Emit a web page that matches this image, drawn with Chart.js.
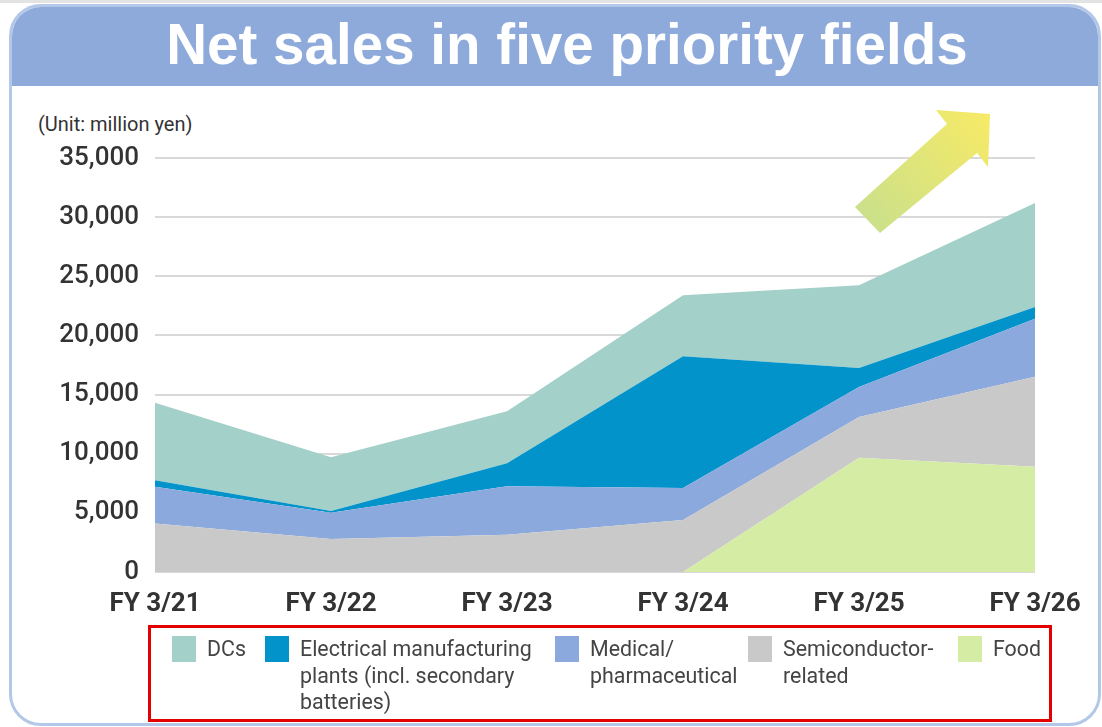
<!DOCTYPE html>
<html>
<head>
<meta charset="utf-8">
<script src="https://cdn.jsdelivr.net/npm/chart.js@4/dist/chart.umd.min.js"></script>
<style>
  html,body{margin:0;padding:0;background:#fff;}
  #wrap{position:relative;width:1102px;height:727px;overflow:hidden;background:#fff;}
  #topline{position:absolute;left:0;top:0;width:1102px;height:3px;background:#e3e3e3;}
  #frame{position:absolute;left:9px;top:4px;width:1092px;height:722px;border:3px solid #b3c8e8;border-radius:32px;box-sizing:border-box;background:#fff;overflow:hidden;}
  #band{position:absolute;left:0;top:0;width:100%;height:79px;background:#8eaadb;}
  #title{position:absolute;left:16px;top:3px;width:1102px;height:82px;text-align:center;color:#fff;font-family:"Liberation Sans",Arial,sans-serif;font-weight:bold;font-size:58px;line-height:82px;}
  #title span{display:inline-block;transform:scaleX(0.975);transform-origin:center;}
  #unit{position:absolute;left:38px;top:112px;font-family:Roboto,sans-serif;font-size:20px;color:#333;}
  canvas{position:absolute;left:0;top:0;}
  #arrow{position:absolute;left:0;top:0;}
  #legend{position:absolute;left:148px;top:625px;width:904px;height:97px;border:3px solid #e30000;box-sizing:border-box;}
  .li{position:absolute;top:7px;font-family:Roboto,sans-serif;font-size:22.5px;line-height:26.5px;color:#444;white-space:pre;transform:scaleX(0.95);transform-origin:left top;}
  .sw{position:absolute;top:8px;width:24px;height:26px;}
</style>
</head>
<body>
<div id="wrap">
  <div id="topline"></div>
  <div id="frame"><div id="band"></div></div>
  <div id="title"><span>Net sales in five priority fields</span></div>
  <div id="unit">(Unit: million yen)</div>
  <canvas id="c" width="1102" height="727"></canvas>
  <svg id="arrow" width="1102" height="727">
    <defs>
      <linearGradient id="ag" x1="860" y1="225" x2="990" y2="112" gradientUnits="userSpaceOnUse">
        <stop offset="0" stop-color="#c9e08c"/>
        <stop offset="1" stop-color="#f7ea66"/>
      </linearGradient>
    </defs>
    <polygon points="855,207 947,124 936,110 990,114 988,167 977,153 880,233" fill="url(#ag)"/>
  </svg>
  <div id="legend"></div>
</div>
<script>
const categories = ['FY 3/21','FY 3/22','FY 3/23','FY 3/24','FY 3/25','FY 3/26'];
const food       = [0, 0, 0, 0, 9650, 8900];
const semi       = [4100, 2800, 3150, 4400, 3450, 7600];
const medical    = [3100, 2200, 4100, 2700, 2550, 4900];
const electrical = [550, 150, 1950, 11150, 1600, 1000];
const dcs        = [6550, 4550, 4400, 5150, 7000, 8800];
const yTicks     = [0, 5000, 10000, 15000, 20000, 25000, 30000, 35000];

const seriesNames = {
  dcs: 'DCs',
  electrical: 'Electrical manufacturing\nplants (incl. secondary\nbatteries)',
  medical: 'Medical/\npharmaceutical',
  semi: 'Semiconductor-\nrelated',
  food: 'Food'
};
const colors = {
  dcs: '#a3d0c8',
  electrical: '#0393cb',
  medical: '#8ba9dc',
  semi: '#c9c9c9',
  food: '#d5eca5'
};

function ds(key, data, fill){
  return {
    label: seriesNames[key], data: data,
    backgroundColor: colors[key], borderColor: colors[key],
    borderWidth: 0, pointRadius: 0, fill: fill, tension: 0
  };
}

new Chart(document.getElementById('c'), {
  type: 'line',
  data: {
    labels: categories,
    datasets: [
      ds('food', food, 'origin'),
      ds('semi', semi, '-1'),
      ds('medical', medical, '-1'),
      ds('electrical', electrical, '-1'),
      ds('dcs', dcs, '-1')
    ]
  },
  options: {
    responsive: false,
    animation: false,
    devicePixelRatio: 1,
    layout: { padding: { left: 0, right: 67, top: 158, bottom: 0 } },
    plugins: { legend: { display: false }, tooltip: { enabled: false } },
    scales: {
      x: {
        offset: false,
        grid: { display: false, drawTicks: false },
        border: { display: false },
        ticks: { padding: 17, color: '#333', font: { family: 'Roboto', size: 26, weight: 'bold' }, maxRotation: 0 },
        afterFit: s => { s.height = 155; }
      },
      y: {
        stacked: true,
        min: 0, max: 35000,
        afterBuildTicks: s => { s.ticks = yTicks.map(v => ({ value: v })); },
        grid: { color: '#d9d9d9', lineWidth: 2, drawTicks: false },
        border: { display: false },
        ticks: {
          padding: 16, color: '#333',
          font: { family: 'Roboto', size: 26, weight: '500' },
          callback: v => v.toLocaleString('en-US')
        },
        afterFit: s => { s.width = 155; }
      }
    }
  }
});

// HTML legend (order as in reference)
const legendOrder = ['dcs','electrical','medical','semi','food'];
const legendLeft  = [21, 114, 404, 597, 807];
const lg = document.getElementById('legend');
legendOrder.forEach((k, i) => {
  const sw = document.createElement('div');
  sw.className = 'sw';
  sw.style.left = legendLeft[i] + 'px';
  sw.style.background = colors[k];
  lg.appendChild(sw);
  const t = document.createElement('div');
  t.className = 'li';
  t.style.left = (legendLeft[i] + 35) + 'px';
  t.textContent = seriesNames[k];
  lg.appendChild(t);
});
</script>
</body>
</html>
